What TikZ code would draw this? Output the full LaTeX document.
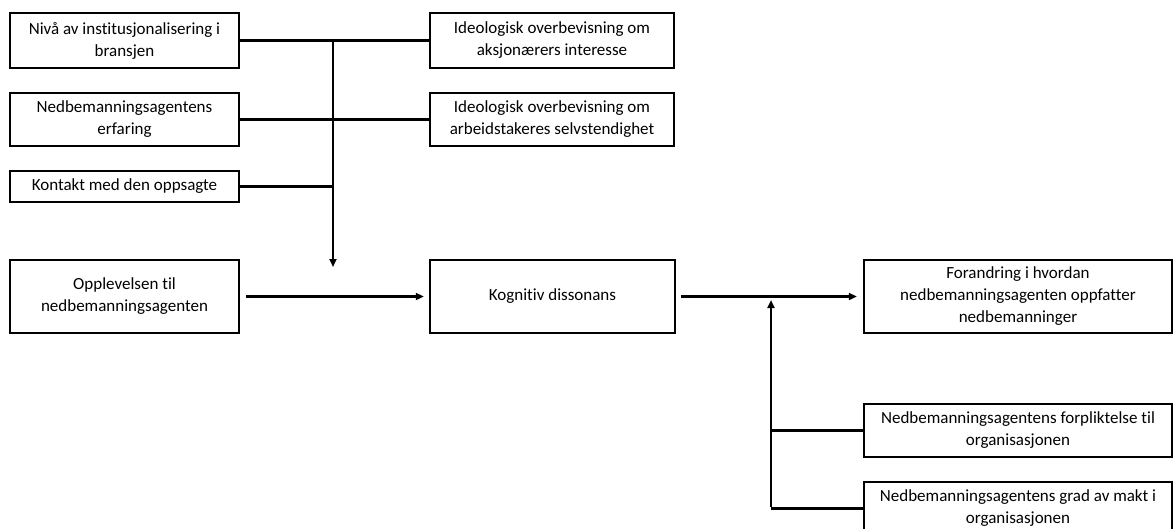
\documentclass[tikz,border=0pt]{standalone}
\usepackage{fontspec}
\setmainfont{Carlito}[Ligatures=NoCommon]
\usetikzlibrary{arrows.meta}
\newlength{\du}
\setlength{\du}{1pt}
\definecolor{dialinecolor}{rgb}{0.000000, 0.000000, 0.000000}
\tikzset{
  dbox/.style={draw=dialinecolor, line width=2.4\du, fill=white, inner sep=0pt,
    align=center, font=\fontsize{17pt}{22pt}\selectfont},
  dline/.style={draw=dialinecolor, line width=2.2\du},
  darrow/.style={dline, -{Triangle[length=8pt,width=7pt]}},
}
\begin{document}
\begin{tikzpicture}
\pgftransformxscale{1.000000}
\pgftransformyscale{-1.000000}
\useasboundingbox (0\du,0\du) rectangle (1173\du,528\du);
% left column
\node[dbox, minimum width=229\du, minimum height=55\du] (niva) at (124.5\du,40.5\du){Nivå av institusjonalisering i\\bransjen};
\node[dbox, minimum width=229\du, minimum height=53\du] (erfaring) at (124.5\du,119.5\du){Nedbemanningsagentens\\erfaring};
\node[dbox, minimum width=229\du, minimum height=31\du] (kontakt) at (124.5\du,186.5\du){Kontakt med den oppsagte};
\node[dbox, minimum width=229\du, minimum height=73\du] (opplev) at (124.5\du,296.5\du){Opplevelsen til\\nedbemanningsagenten};
% middle column
\node[dbox, minimum width=244\du, minimum height=55\du] (ideo1) at (552\du,40.5\du){Ideologisk overbevisning om\\aksjonærers interesse};
\node[dbox, minimum width=244\du, minimum height=53\du] (ideo2) at (552\du,119.5\du){Ideologisk overbevisning om\\arbeidstakeres selvstendighet};
\node[dbox, minimum width=245\du, minimum height=73\du] (kognitiv) at (552.5\du,296.5\du){Kognitiv dissonans};
% right column
\node[dbox, minimum width=308\du, minimum height=73\du] (forandring) at (1018\du,296.5\du){Forandring i hvordan\\nedbemanningsagenten oppfatter\\nedbemanninger};
\node[dbox, minimum width=308\du, minimum height=53\du] (forplikt) at (1018\du,430.5\du){Nedbemanningsagentens forpliktelse til\\organisasjonen};
\node[dbox, minimum width=308\du, minimum height=53\du] (makt) at (1018\du,508.5\du){Nedbemanningsagentens grad av makt i\\organisasjonen};
% moderators, top
\coordinate (top) at (333\du,40.5\du);
\coordinate (low) at (333\du,186.5\du);
\coordinate (down) at (333\du,267\du);
\draw[dline] (niva.east) -- (ideo1.west);
\draw[dline] (erfaring.east) -- (ideo2.west);
\draw[dline] (kontakt.east) -- (low);
\draw[darrow] (top) -- (down);
% main chain
\draw[darrow, shorten <=6\du, shorten >=5\du] (opplev.east) -- (kognitiv.west);
\draw[darrow, shorten <=5\du, shorten >=6\du] (kognitiv.east) -- (forandring.west);
% moderators, bottom
\coordinate (up) at (771\du,300\du);
\coordinate (knee) at (771\du,430.5\du);
\coordinate (foot) at (771\du,508.5\du);
\draw[dline] (forplikt.west) -- (knee);
\draw[dline] (makt.west) -- (foot);
\draw[darrow] ([yshift=-1.1\du]foot) -- (up);
\end{tikzpicture}
\end{document}
